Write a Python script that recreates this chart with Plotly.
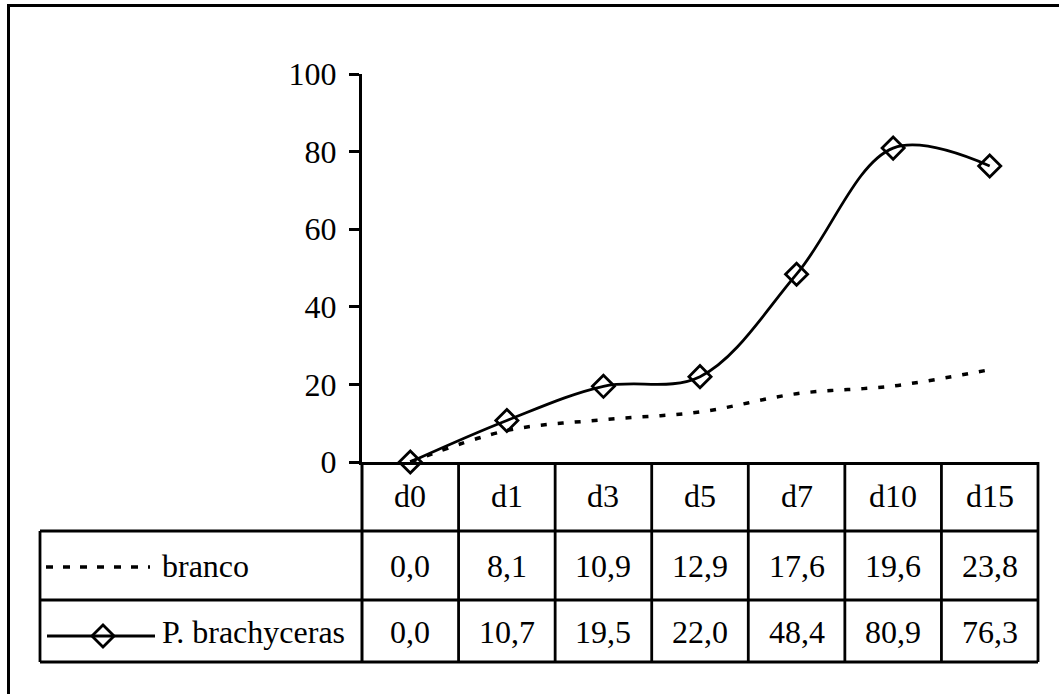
import plotly.graph_objects as go

W, H = 1059, 694

categories = ["d0", "d1", "d3", "d5", "d7", "d10", "d15"]
branco = [0.0, 8.1, 10.9, 12.9, 17.6, 19.6, 23.8]
brachyceras = [0.0, 10.7, 19.5, 22.0, 48.4, 80.9, 76.3]
series_names = ["branco", "P. brachyceras"]
y_ticks = [0, 20, 40, 60, 80, 100]

FONT = "Liberation Serif"
FS = 32

# plot area in pixels
X0, X1 = 362, 1038
Y_TOP, Y_BOT = 74, 462
ROW1, ROW2, ROW3 = 531, 600, 662
TABLE_LEFT = 40

def px(x):
    return x / W

def py(y):
    return 1 - y / H

n = len(categories)
colw = (X1 - X0) / n

fig = go.Figure()

fig.add_trace(go.Scatter(
    x=categories, y=branco, mode="lines", name=series_names[0],
    line=dict(color="black", width=3.5, dash="6px,11px", shape="spline", smoothing=1),
    cliponaxis=False, showlegend=False))
fig.add_trace(go.Scatter(
    x=categories, y=brachyceras, mode="lines+markers", name=series_names[1],
    line=dict(color="black", width=2.8, shape="spline", smoothing=1),
    marker=dict(symbol="diamond-open", size=17, color="black", line=dict(width=2.8, color="black")),
    cliponaxis=False, showlegend=False))

# legend keys (drawn in pixel overlay axes)
fig.add_trace(go.Scatter(
    x=[46, 150], y=[567, 567], mode="lines", xaxis="x2", yaxis="y2",
    line=dict(color="black", width=3.5, dash="7px,10px"), showlegend=False, hoverinfo="skip"))
fig.add_trace(go.Scatter(
    x=[47, 155], y=[636, 636], mode="lines", xaxis="x2", yaxis="y2",
    line=dict(color="black", width=2.8), showlegend=False, hoverinfo="skip"))
fig.add_trace(go.Scatter(
    x=[103], y=[636], mode="markers", xaxis="x2", yaxis="y2",
    marker=dict(symbol="diamond-open", size=17, color="black", line=dict(width=2.8, color="black")),
    showlegend=False, hoverinfo="skip"))

shapes = []
LW = 2.8
def hline(y, xa, xb, w=LW):
    shapes.append(dict(type="line", xref="paper", yref="paper", x0=px(xa), x1=px(xb),
                       y0=py(y), y1=py(y), line=dict(color="black", width=w)))
def vline(x, ya, yb, w=LW):
    shapes.append(dict(type="line", xref="paper", yref="paper", x0=px(x), x1=px(x),
                       y0=py(ya), y1=py(yb), line=dict(color="black", width=w)))

# outer border (top and left visible)
hline(5.5, 7, W, 3)
vline(8.5, 4, H, 3)

# table
hline(ROW1, TABLE_LEFT, X1)
hline(ROW2, TABLE_LEFT, X1)
hline(ROW3, TABLE_LEFT, X1)
vline(TABLE_LEFT, ROW1, ROW3)
vline(X0, Y_BOT, ROW3, 3)
for i in range(1, n + 1):
    vline(X0 + colw * i, Y_BOT, ROW3)

annotations = []
def txt(x, y, s, anchor="center"):
    annotations.append(dict(x=px(x), y=py(y), xref="paper", yref="paper", text=s,
                            showarrow=False, xanchor=anchor, yanchor="middle",
                            font=dict(family=FONT, size=FS, color="black")))

for i, c in enumerate(categories):
    cx = X0 + colw * (i + 0.5)
    txt(cx, (Y_BOT + ROW1) / 2, c)
    txt(cx, (ROW1 + ROW2) / 2, f"{branco[i]:.1f}".replace(".", ","))
    txt(cx, (ROW2 + ROW3) / 2 + 1, f"{brachyceras[i]:.1f}".replace(".", ","))

txt(160, (ROW1 + ROW2) / 2, series_names[0], "left")
txt(160, (ROW2 + ROW3) / 2 + 1, series_names[1], "left")

fig.update_layout(
    template="none",
    width=W, height=H, margin=dict(l=0, r=0, t=0, b=0, pad=0, autoexpand=False),
    paper_bgcolor="white", plot_bgcolor="rgba(0,0,0,0)",
    shapes=shapes, annotations=annotations,
    font=dict(family=FONT, size=FS, color="black"),
    xaxis=dict(domain=[px(X0), px(X1)], range=[-0.5, n - 0.5], type="category",
               automargin=False,
               showgrid=False, zeroline=False, showticklabels=False, ticks="",
               showline=True, linecolor="black", linewidth=3),
    yaxis=dict(domain=[py(Y_BOT), py(Y_TOP)], range=[0, 100], tickvals=y_ticks,
               automargin=False,
               showgrid=False, zeroline=False, showline=True, linecolor="black", linewidth=3,
               ticks="outside", ticklen=10, tickwidth=3, tickcolor="black",
               ticklabelstandoff=6,
               tickfont=dict(family=FONT, size=FS, color="black")),
    xaxis2=dict(domain=[0, 1], range=[0, W], visible=False, anchor="y2", automargin=False),
    yaxis2=dict(domain=[0, 1], range=[H, 0], visible=False, anchor="x2", automargin=False),
)

fig.write_html("out.html")
